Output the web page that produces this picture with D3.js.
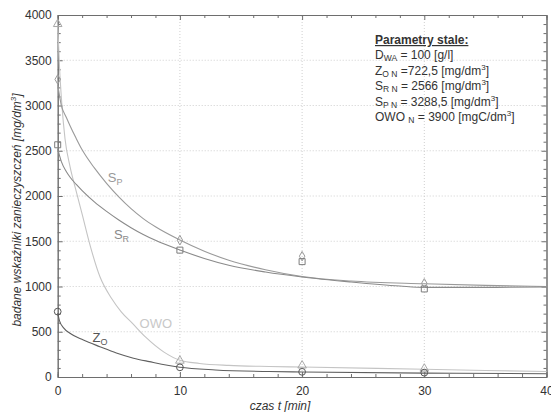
<!DOCTYPE html>
<html>
<head>
<meta charset="utf-8">
<script src="https://cdn.jsdelivr.net/npm/d3@7"></script>
<style>
  body { margin: 0; background: #fff; }
  svg { font-family: "Liberation Sans", Arial, sans-serif; }
</style>
</head>
<body>
<div id="chart"></div>
<script>
// measured points
const times = [0, 10, 20, 30];
const zoPoints = [722.5, 107, 57, 48];
const owoPoints = [3900, 180, 127, 92];
const srPoints = [2566, 1402, 1275, 973];
const spPoints = [3288.5, 1512, 1335, 1035];

// fitted curves
const zoCurveT = [0, 0.15, 0.5, 1, 2.1, 3.45, 4.8, 6.2, 7.5, 10, 12.9, 17.3, 20, 30, 40];
const zoCurveV = [705, 620, 540, 483, 409, 335, 265, 208, 170, 107, 78, 60, 55, 43, 36];
const owoCurveT = [0, 0.15, 0.33, 0.6, 1, 1.5, 2, 2.6, 3.45, 4.4, 5.2, 6.1, 7.2, 8.7, 10, 11.6, 14, 17.3, 20, 30, 40];
const owoCurveV = [3900, 3420, 3030, 2630, 2330, 2060, 1800, 1480, 1110, 870, 720, 595, 440, 275, 185, 150, 128, 116, 110, 85, 60];
const srCurveT = [0, 0.3, 0.7, 1, 1.5, 2, 3, 4, 5, 6, 7, 8, 10, 12, 14, 17, 20, 24, 28, 30, 35, 40];
const srCurveV = [2520, 2380, 2270, 2210, 2130, 2060, 1935, 1830, 1735, 1650, 1575, 1510, 1403, 1310, 1235, 1160, 1105, 1050, 1005, 990, 990, 995];
const spCurveT = [0, 0.3, 0.7, 1, 1.5, 2, 3, 4, 5, 6, 7, 8, 10, 12, 14, 17, 20, 24, 30, 35, 40];
const spCurveV = [3230, 3000, 2870, 2780, 2640, 2510, 2310, 2140, 1990, 1860, 1750, 1660, 1514, 1390, 1290, 1185, 1110, 1060, 1030, 1012, 1000];

const xTicks = [0, 10, 20, 30, 40];
const yTicks = [0, 500, 1000, 1500, 2000, 2500, 3000, 3500, 4000];

const width = 551;
const height = 412;
const margin = { top: 15, right: 4.5, bottom: 35, left: 57.7 };

const svg = d3.select('#chart')
    .append('svg')
    .attr('width', width)
    .attr('height', height);

svg.append('rect').attr('width', width).attr('height', height).attr('fill', '#fff');

const x = d3.scaleLinear().domain([0, 40]).range([margin.left, width - margin.right]);
const y = d3.scaleLinear().domain([0, 4000]).range([height - margin.bottom, margin.top]);

// grid
const grid = svg.append('g').attr('stroke', '#cfcfcf').attr('stroke-dasharray', '1,2');
grid.selectAll('.gx').data(xTicks.slice(1, -1)).join('line')
    .attr('x1', d => x(d)).attr('x2', d => x(d))
    .attr('y1', y(0)).attr('y2', y(4000));
grid.selectAll('.gy').data(yTicks.slice(1, -1)).join('line')
    .attr('x1', x(0)).attr('x2', x(40))
    .attr('y1', d => y(d)).attr('y2', d => y(d));

// axes, ticks pointing inward on all four sides
const xMinor = d3.range(0, 41, 2).filter(d => d % 10 !== 0);
const yMinor = d3.range(0, 4001, 100).filter(d => d % 500 !== 0);
const fmt = d3.format('d');

function styleAxis(g) {
    g.selectAll('.domain').attr('stroke', '#6e6e6e');
    g.selectAll('.tick line').attr('stroke', '#6e6e6e');
    g.selectAll('.tick text').attr('fill', '#333').style('font-size', '12px');
}

svg.append('g').attr('transform', `translate(0,${y(0)})`)
    .call(d3.axisBottom(x).tickValues(xTicks).tickFormat(fmt).tickSizeInner(-5).tickSizeOuter(0).tickPadding(9))
    .call(styleAxis);
svg.append('g').attr('transform', `translate(0,${y(0)})`)
    .call(d3.axisBottom(x).tickValues(xMinor).tickSize(-3).tickFormat(''))
    .call(styleAxis);
svg.append('g').attr('transform', `translate(0,${y(4000)})`)
    .call(d3.axisTop(x).tickValues(xTicks).tickSizeInner(-5).tickSizeOuter(0).tickFormat(''))
    .call(styleAxis);
svg.append('g').attr('transform', `translate(0,${y(4000)})`)
    .call(d3.axisTop(x).tickValues(xMinor).tickSize(-3).tickFormat(''))
    .call(styleAxis);
svg.append('g').attr('transform', `translate(${x(0)},0)`)
    .call(d3.axisLeft(y).tickValues(yTicks).tickFormat(fmt).tickSizeInner(-5).tickSizeOuter(0).tickPadding(6))
    .call(styleAxis);
svg.append('g').attr('transform', `translate(${x(0)},0)`)
    .call(d3.axisLeft(y).tickValues(yMinor).tickSize(-3).tickFormat(''))
    .call(styleAxis);
svg.append('g').attr('transform', `translate(${x(40)},0)`)
    .call(d3.axisRight(y).tickValues(yTicks).tickSizeInner(-5).tickSizeOuter(0).tickFormat(''))
    .call(styleAxis);
svg.append('g').attr('transform', `translate(${x(40)},0)`)
    .call(d3.axisRight(y).tickValues(yMinor).tickSize(-3).tickFormat(''))
    .call(styleAxis);

// curves
const line = d3.line()
    .x(d => x(d[0]))
    .y(d => y(d[1]))
    .curve(d3.curveMonotoneX);

const curves = [
    { t: owoCurveT, v: owoCurveV, color: '#c4c4c4' },
    { t: spCurveT, v: spCurveV, color: '#9a9a9a' },
    { t: srCurveT, v: srCurveV, color: '#8a8a8a' },
    { t: zoCurveT, v: zoCurveV, color: '#5f5f5f' }
];
svg.append('g').selectAll('path').data(curves).join('path')
    .attr('d', c => line(c.t.map((t, i) => [t, c.v[i]])))
    .attr('fill', 'none')
    .attr('stroke', c => c.color)
    .attr('stroke-width', 1.1);

// markers
const series = [
    { v: owoPoints, shape: d3.symbolTriangle, size: 32, color: '#a8a8a8' },
    { v: spPoints, shape: d3.symbolDiamond, size: 26, color: '#9a9a9a' },
    { v: srPoints, shape: d3.symbolSquare, size: 36, color: '#7c7c7c' },
    { v: zoPoints, shape: d3.symbolCircle, size: 36, color: '#555' }
];
series.forEach(s => {
    svg.append('g').selectAll('path')
        .data(times.map((t, i) => [t, s.v[i]]))
        .join('path')
        .attr('transform', d => `translate(${x(d[0])},${y(d[1])})`)
        .attr('d', d3.symbol().type(s.shape).size(s.size))
        .attr('fill', 'none')
        .attr('stroke', s.color)
        .attr('stroke-width', 1);
});

// curve labels
function subLabel(px, py, main, sub, color) {
    const t = svg.append('text')
        .attr('x', px).attr('y', py)
        .attr('fill', color)
        .style('font-size', '13px');
    t.append('tspan').text(main);
    if (sub) {
        t.append('tspan').attr('dy', 3).style('font-size', '9px').text(sub);
    }
}
subLabel(x(4.1), y(2155), 'S', 'P', '#999');
subLabel(x(4.6), y(1520), 'S', 'R', '#8a8a8a');
subLabel(x(6.7), y(540), 'OWO', null, '#c8c8c8');
subLabel(x(2.85), y(385), 'Z', 'O', '#555');

// axis titles
svg.append('text')
    .attr('x', 280).attr('y', 410)
    .attr('text-anchor', 'middle')
    .attr('fill', '#333')
    .style('font-size', '12px')
    .style('font-style', 'italic')
    .text('czas t [min]');

const yt = svg.append('text')
    .attr('transform', 'translate(21,210) rotate(-90)')
    .attr('text-anchor', 'middle')
    .attr('fill', '#333')
    .style('font-size', '12px')
    .style('font-style', 'italic');
yt.append('tspan').text('badane wskaźniki zanieczyszczeń [mg/dm');
yt.append('tspan').attr('dy', -5).style('font-size', '8px').text('3');
yt.append('tspan').attr('dy', 5).text(']');

// parameters box
const paramMain = ['D', 'Z', 'S', 'S', 'OWO '];
const paramSub = ['WA', 'O N', 'R N', 'P N', 'N'];
const paramRest = [' = 100 [g/l]', ' =722,5 [mg/dm', ' = 2566 [mg/dm', ' = 3288,5 [mg/dm', ' = 3900 [mgC/dm'];
const paramSup = [null, '3', '3', '3', '3'];

svg.append('text')
    .attr('x', 375).attr('y', 44)
    .attr('fill', '#333')
    .style('font-size', '12px')
    .style('font-weight', 'bold')
    .style('text-decoration', 'underline')
    .text('Parametry stale:');

paramMain.forEach((m, i) => {
    const t = svg.append('text')
        .attr('x', 375).attr('y', 59 + i * 15.5)
        .attr('fill', '#333')
        .style('font-size', '12px');
    t.append('tspan').text(m);
    t.append('tspan').attr('dy', 2).style('font-size', '8.5px').text(paramSub[i]);
    t.append('tspan').attr('dy', -2).text(paramRest[i]);
    if (paramSup[i]) {
        t.append('tspan').attr('dy', -5).style('font-size', '8px').text(paramSup[i]);
        t.append('tspan').attr('dy', 5).text(']');
    }
});
</script>
</body>
</html>
